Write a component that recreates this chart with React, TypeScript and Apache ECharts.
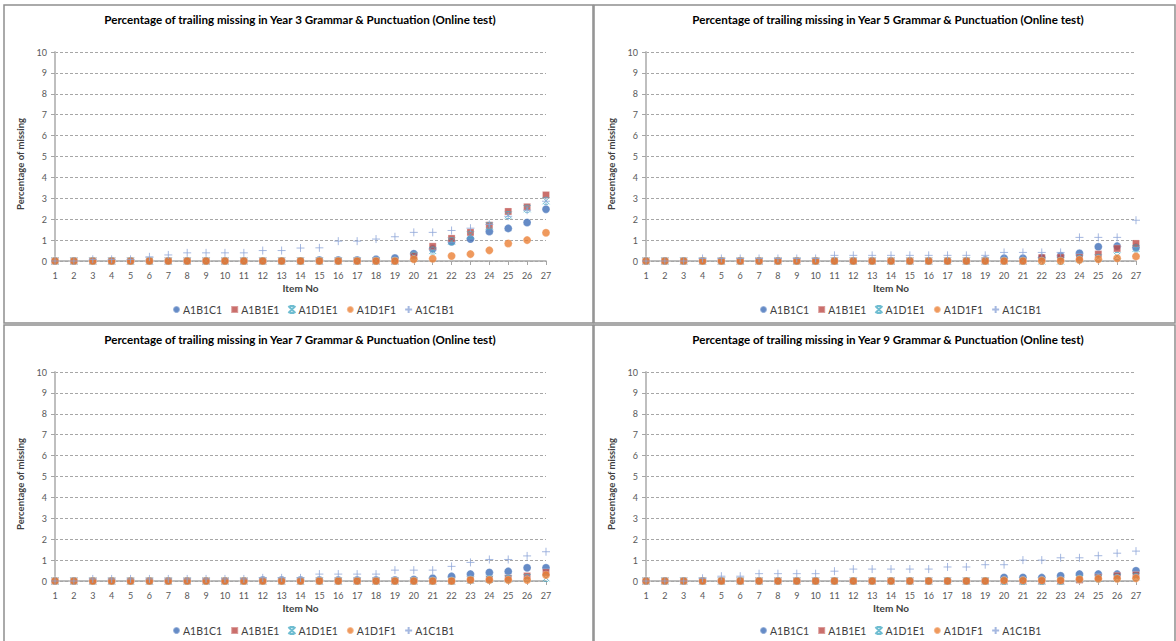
import React, { useEffect, useRef } from "react";
import * as echarts from "echarts";

const items = Array.from({ length: 27 }, (_, i) => String(i + 1));
const seriesNames = ["A1B1C1", "A1B1E1", "A1D1E1", "A1D1F1", "A1C1B1"];
const titles = [
  "Percentage of trailing missing in Year 3 Grammar & Punctuation (Online test)",
  "Percentage of trailing missing in Year 5 Grammar & Punctuation (Online test)",
  "Percentage of trailing missing in Year 7 Grammar & Punctuation (Online test)",
  "Percentage of trailing missing in Year 9 Grammar & Punctuation (Online test)",
];
const yTicks = [0, 10, 1];

// Year 3
const y3_A1B1C1 = [0,0,0,0,0,0,0,0,0,0,0,0,0,0,0.05,0.05,0.05,0.08,0.14,0.35,0.58,0.92,1.05,1.41,1.56,1.84,2.48];
const y3_A1B1E1 = [0,0,0,0,0,0,0,0,0,0,0,0,0,0,0,0,0,0,0,0.25,0.7,1.08,1.37,1.71,2.37,2.59,3.16];
const y3_A1D1E1 = [0,0,0,0,0,0,0,0,0,0,0,0,0,0,0,0,0,0,0,0.25,0.5,0.95,1.25,1.68,2.2,2.5,2.88];
const y3_A1D1F1 = [0,0,0,0,0,0,0,0,0,0,0,0,0,0,0,0,0,0,0,0.08,0.11,0.24,0.33,0.51,0.84,1.0,1.35];
const y3_A1C1B1 = [0,0,0.08,0.08,0.08,0.2,0.29,0.39,0.39,0.39,0.39,0.5,0.5,0.62,0.63,0.95,0.95,1.05,1.16,1.37,1.37,1.46,1.57,1.75,2.14,2.43,2.86];

// Year 5
const y5_A1B1C1 = [0,0,0,0,0,0,0,0,0,0,0,0,0,0,0,0,0,0,0.05,0.13,0.13,0.16,0.25,0.37,0.68,0.71,0.65];
const y5_A1B1E1 = [0,0,0,0,0,0,0,0,0,0,0,0,0,0,0,0,0,0,0,0,0,0.16,0.17,0.17,0.33,0.6,0.84];
const y5_A1D1E1 = [0,0,0,0,0,0,0,0,0,0,0,0,0,0,0,0,0,0,0,0,0,0,0,0.1,0.15,0.24,0.6];
const y5_A1D1F1 = [0,0,0,0,0,0,0,0,0,0,0,0,0,0,0,0,0,0,0,0,0,0,0,0.05,0.08,0.13,0.22];
const y5_A1C1B1 = [0,0,0,0.12,0.12,0.12,0.12,0.12,0.12,0.12,0.27,0.27,0.27,0.27,0.27,0.27,0.27,0.27,0.27,0.41,0.41,0.41,0.41,1.13,1.13,1.13,1.95];

// Year 7
const y7_A1B1C1 = [0,0,0,0,0,0,0,0,0,0,0,0.05,0.05,0.05,0.05,0.05,0.05,0.05,0.05,0.07,0.13,0.22,0.33,0.41,0.46,0.63,0.63];
const y7_A1B1E1 = [0,0,0,0,0,0,0,0,0,0,0,0,0,0,0,0,0,0,0,0,0,0,0.05,0.08,0.13,0.24,0.41];
const y7_A1D1E1 = [0,0,0,0,0,0,0,0,0,0,0,0,0,0,0,0,0,0,0,0,0,0,0.05,0.08,0.1,0.15,0.15];
const y7_A1D1F1 = [0,0,0,0,0,0,0,0,0,0,0,0,0,0,0,0,0,0,0,0,0,0,0.05,0.05,0.05,0.05,0.29];
const y7_A1C1B1 = [0,0,0.1,0.1,0.1,0.1,0.1,0.1,0.1,0.1,0.1,0.15,0.15,0.15,0.33,0.33,0.33,0.33,0.52,0.52,0.52,0.7,0.89,1.03,1.03,1.2,1.4];

// Year 9
const y9_A1B1C1 = [0,0,0,0,0,0,0,0,0,0,0,0,0,0,0,0,0,0,0,0.17,0.17,0.16,0.25,0.33,0.33,0.33,0.49];
const y9_A1B1E1 = [0,0,0,0,0,0,0,0,0,0,0,0,0,0,0,0,0,0,0,0,0,0,0,0.05,0.17,0.25,0.29];
const y9_A1D1E1 = [0,0,0,0,0,0,0,0,0,0,0,0,0,0,0,0,0,0,0,0,0,0,0,0.1,0.12,0.15,0.2];
const y9_A1D1F1 = [0,0,0,0,0,0,0,0,0,0,0,0,0,0,0,0,0,0,0,0.03,0.03,0.03,0.03,0.08,0.11,0.11,0.13];
const y9_A1C1B1 = [0,0,0,0.13,0.23,0.23,0.35,0.35,0.35,0.35,0.47,0.57,0.57,0.57,0.57,0.57,0.67,0.67,0.78,0.78,1.0,1.0,1.11,1.11,1.21,1.33,1.43];

const panelData = [
  [y3_A1B1C1, y3_A1B1E1, y3_A1D1E1, y3_A1D1F1, y3_A1C1B1],
  [y5_A1B1C1, y5_A1B1E1, y5_A1D1E1, y5_A1D1F1, y5_A1C1B1],
  [y7_A1B1C1, y7_A1B1E1, y7_A1D1E1, y7_A1D1F1, y7_A1C1B1],
  [y9_A1B1C1, y9_A1B1E1, y9_A1D1E1, y9_A1D1F1, y9_A1C1B1],
];

const FONT = "Lato, 'Liberation Sans', sans-serif";
const colors = ["#3F6EB8", "#BD4B47", "#4BACC6", "#EB8035", "#8EA6D8"];
const symbols = [
  "circle",
  "rect",
  "path://M0,0L10,10M10,0L0,10M2,0L8,0M2,10L8,10",
  "circle",
  "path://M5,0L5,10M0,5L10,5",
];
const sizes = [8, 7, 7, 8, 8];

const panels = [
  { left: 55, top: 52, width: 491, height: 209, cx: 300, titleY: 19, legendLeft: 167, legendTop: 299 },
  { left: 646, top: 52, width: 490, height: 209, cx: 888, titleY: 19, legendLeft: 754, legendTop: 299 },
  { left: 55, top: 372, width: 491, height: 209, cx: 300, titleY: 339, legendLeft: 167, legendTop: 620 },
  { left: 646, top: 372, width: 490, height: 209, cx: 888, titleY: 339, legendLeft: 754, legendTop: 620 },
];

export default function App() {
  const ref = useRef<HTMLDivElement>(null);
  useEffect(() => {
    if (!ref.current) return;
    const chart = echarts.init(ref.current, undefined, { renderer: "svg" });
    const grid: any[] = [];
    const xAxis: any[] = [];
    const yAxis: any[] = [];
    const series: any[] = [];
    const legend: any[] = [];
    const graphic: any[] = [];

    const bc = "#8f8f8f";
    graphic.push(
      { type: "rect", shape: { x: 4, y: 5, width: 589, height: 318 }, style: { fill: "none", stroke: bc, lineWidth: 1.5 }, silent: true },
      { type: "rect", shape: { x: 594, y: 5, width: 581, height: 318 }, style: { fill: "none", stroke: bc, lineWidth: 1.5 }, silent: true },
      { type: "rect", shape: { x: 4, y: 325, width: 589, height: 330 }, style: { fill: "none", stroke: bc, lineWidth: 1.5 }, silent: true },
      { type: "rect", shape: { x: 594, y: 325, width: 581, height: 330 }, style: { fill: "none", stroke: bc, lineWidth: 1.5 }, silent: true }
    );

    panels.forEach((p, pi) => {
      grid.push({ left: p.left, top: p.top, width: p.width, height: p.height, containLabel: false });
      xAxis.push({
        type: "category",
        gridIndex: pi,
        data: items,
        boundaryGap: false,
        name: "Item No",
        nameLocation: "middle",
        nameGap: 22,
        nameTextStyle: { fontFamily: FONT, fontWeight: "bold", fontSize: 10, color: "#404040" },
        axisLine: { lineStyle: { color: "#a6a6a6", width: 1.5 } },
        axisTick: { show: true, length: 4, lineStyle: { color: "#a6a6a6" }, alignWithLabel: true },
        axisLabel: { fontFamily: FONT, fontSize: 9, color: "#595959", margin: 10, interval: 0 },
        splitLine: { show: false },
      });
      yAxis.push({
        type: "value",
        gridIndex: pi,
        min: yTicks[0],
        max: yTicks[1],
        interval: yTicks[2],
        axisLine: { show: true, lineStyle: { color: "#bfbfbf", width: 2 } },
        axisTick: { show: true, length: 4, lineStyle: { color: "#a6a6a6" } },
        axisLabel: { fontFamily: FONT, fontSize: 9, color: "#595959", margin: 8 },
        splitLine: { show: true, lineStyle: { color: "#a6a6a6", type: [3, 2], width: 1 } },
      });
      panelData[pi].forEach((vals, si) => {
        series.push({
          type: "scatter",
          name: seriesNames[si],
          xAxisIndex: pi,
          yAxisIndex: pi,
          data: vals,
          symbol: symbols[si],
          symbolSize: sizes[si],
          itemStyle:
            si === 2 || si === 4
              ? { color: "rgba(0,0,0,0)", borderColor: colors[si], borderWidth: 1 }
              : { color: colors[si], borderColor: "rgba(255,255,255,0.4)", borderWidth: 0.8 },
          z: 2 + si,
        });
      });
      legend.push({
        left: p.legendLeft,
        top: p.legendTop,
        itemWidth: 7,
        itemHeight: 7,
        itemGap: 8,
        textStyle: { fontFamily: FONT, fontSize: 10.5, color: "#404040", padding: [0, 0, 0, -2] },
        data: seriesNames.map((n) => ({ name: n })),
        selectedMode: false,
      });
      graphic.push({
        type: "text",
        x: p.cx,
        y: p.titleY,
        style: {
          text: titles[pi],
          fontFamily: FONT,
          fontWeight: "bold",
          fontSize: 11.6,
          fill: "#000",
          align: "center",
          verticalAlign: "middle",
        },
        silent: true,
      });
      graphic.push({
        type: "text",
        x: p.left - 35,
        y: p.top + 112,
        rotation: Math.PI / 2,
        style: {
          text: "Percentage of missing",
          fontFamily: FONT,
          fontWeight: "bold",
          fontSize: 9.5,
          fill: "#404040",
          align: "center",
          verticalAlign: "middle",
        },
        silent: true,
      });
    });

    chart.setOption({
      animation: false,
      backgroundColor: "#fff",
      grid,
      xAxis,
      yAxis,
      series,
      legend,
      graphic,
    });
    return () => chart.dispose();
  }, []);
  return (
    <div
      ref={ref}
      style={{ position: "absolute", left: 0, top: 0, width: 1176, height: 641 }}
    />
  );
}
